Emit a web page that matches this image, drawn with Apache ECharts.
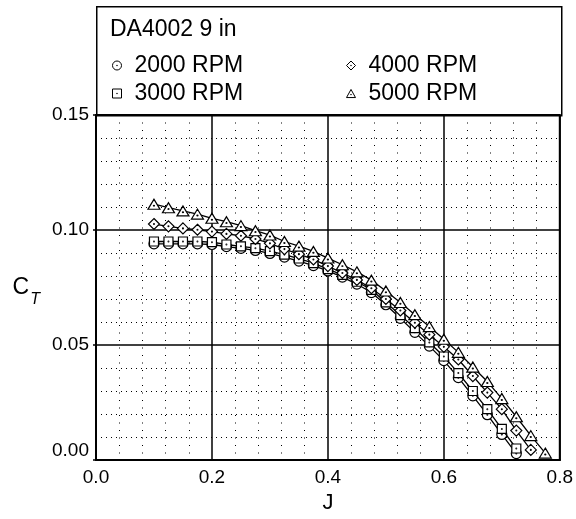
<!DOCTYPE html>
<html>
<head>
<meta charset="utf-8">
<script src="https://cdn.jsdelivr.net/npm/echarts@6/dist/echarts.min.js"></script>
<style>html,body{margin:0;padding:0;background:#fff}#c{width:576px;height:519px}</style>
</head>
<body>
<div id="c"></div>
<script>
// ---- data ----
const J = [0.100,0.125,0.150,0.175,0.200,0.225,0.250,0.275,0.300,0.325,0.350,0.375,0.400,0.425,0.450,0.475,0.500,0.525,0.550,0.575,0.600,0.625,0.650,0.675,0.700,0.725,0.750,0.775];
const ct2000 = [0.0940,0.0940,0.0940,0.0940,0.0937,0.0928,0.0920,0.0911,0.0898,0.0882,0.0865,0.0845,0.0822,0.0795,0.0765,0.0728,0.0675,0.0616,0.0555,0.0495,0.0432,0.0358,0.0279,0.0197,0.0111,0.0028];
const ct3000 = [0.0950,0.0950,0.0950,0.0950,0.0947,0.0937,0.0929,0.0921,0.0908,0.0893,0.0876,0.0856,0.0830,0.0805,0.0775,0.0740,0.0685,0.0630,0.0573,0.0511,0.0450,0.0378,0.0300,0.0221,0.0135,0.0050];
const ct4000 = [0.1026,0.1016,0.1007,0.1001,0.0993,0.0983,0.0975,0.0961,0.0942,0.0917,0.0895,0.0872,0.0843,0.0813,0.0783,0.0747,0.0700,0.0650,0.0597,0.0545,0.0492,0.0437,0.0365,0.0293,0.0221,0.0128,0.0044];
const ct5000 = [0.1112,0.1097,0.1083,0.1069,0.1051,0.1036,0.1019,0.0997,0.0978,0.0950,0.0930,0.0907,0.0878,0.0849,0.0818,0.0782,0.0735,0.0685,0.0632,0.0580,0.0525,0.0468,0.0404,0.0341,0.0267,0.0188,0.0106,0.0030];
const seriesNames = ['2000 RPM','3000 RPM','4000 RPM','5000 RPM'];
const xTicks = [0.0,0.2,0.4,0.6,0.8];
const yTicks = [0.00,0.05,0.10,0.15];
const titleText = 'DA4002 9 in';

// ---- symbols (outline + centre dot) ----
const dot = (cx,cy)=>`M${cx},${cy-0.8}A0.8,0.8,0,1,1,${cx},${cy+0.8}A0.8,0.8,0,1,1,${cx},${cy-0.8}Z`;
const SYM = {
  circle: 'path://M10,0A10,10,0,1,1,10,20A10,10,0,1,1,10,0Z' + dot(10,10),
  square: 'path://M0,0L20,0L20,20L0,20Z' + dot(10,10),
  diamond: 'path://M10,0L20,10L10,20L0,10Z' + dot(10,10),
  triangle: 'path://M10,0L20,18L0,18Z' + dot(10,11.5)
};
const symList = [SYM.circle, SYM.square, SYM.diamond, SYM.triangle];
const symSizes = [10, 9, 11, [12,10]];
const dataSets = [ct2000, ct3000, ct4000, ct5000];

const series = dataSets.map((arr,i)=>({
  name: seriesNames[i],
  type: 'line',
  data: arr.map((v,k)=>[J[k], v]),
  symbol: symList[i],
  symbolSize: symSizes[i],
  showAllSymbol: true,
  lineStyle: {color:'#000', width:1.3},
  itemStyle: {color:'#fff', borderColor:'#000', borderWidth:1.2},
  z: 2 + i*0.01,
  animation: false
}));

const FONT = '"Liberation Sans", Arial, sans-serif';
const chart = echarts.init(document.getElementById('c'), null, {renderer:'canvas'});
chart.setOption({
  animation: false,
  backgroundColor: '#fff',
  title: {text: titleText, left: 110, top: 18, padding: 0,
    textStyle: {fontFamily: FONT, fontSize: 23, fontWeight: 'normal', color: '#000'}},
  legend: [
    {orient:'vertical', left:112, top:54, padding:0, itemGap:5, itemWidth:9, itemHeight:9,
     data:[{name:seriesNames[0], icon:SYM.circle},{name:seriesNames[1], icon:SYM.square}],
     itemStyle:{borderWidth:1},
     textStyle:{fontFamily:FONT, fontSize:23, color:'#000', padding:[0,0,0,8]}, selectedMode:false},
    {orient:'vertical', left:346, top:54, padding:0, itemGap:5, itemWidth:9, itemHeight:9,
     data:[{name:seriesNames[2], icon:SYM.diamond},{name:seriesNames[3], icon:SYM.triangle}],
     itemStyle:{borderWidth:1},
     textStyle:{fontFamily:FONT, fontSize:23, color:'#000', padding:[0,0,0,8]}, selectedMode:false}
  ],
  graphic: [{type:'rect', left:96, top:6, z:-1, silent:true,
    shape:{width:465, height:109}, style:{fill:'#fff', stroke:'#000', lineWidth:1.5}}],
  grid: {left:96, right:15, top:115, bottom:56, show:true, borderColor:'#000', borderWidth:2, containLabel:false},
  xAxis: {
    type:'value', min:xTicks[0], max:xTicks[xTicks.length-1], interval:0.2,
    name:'J', nameLocation:'middle', nameGap:32,
    nameTextStyle:{fontFamily:FONT, fontSize:22, color:'#000'},
    axisLine:{show:true, lineStyle:{color:'#000', width:2}},
    axisTick:{show:false},
    axisLabel:{fontFamily:FONT, fontSize:19, color:'#000', margin:8, formatter:v=>v.toFixed(1)},
    splitLine:{show:true, lineStyle:{color:'#000', width:1.5}},
    minorTick:{show:false, splitNumber:5},
    minorSplitLine:{show:true, lineStyle:{color:'#000', width:1, type:[1,6.5]}}
  },
  yAxis: {
    type:'value', min:yTicks[0], max:yTicks[yTicks.length-1], interval:0.05,
    name:'{c|C}{t|T}', nameLocation:'middle', nameRotate:0, nameGap:56,
    nameTextStyle:{rich:{
      c:{fontFamily:FONT, fontSize:23, color:'#000', lineHeight:23, verticalAlign:'top'},
      t:{fontFamily:FONT, fontSize:16, fontStyle:'italic', color:'#000', lineHeight:16, verticalAlign:'top', padding:[16,0,0,1]}
    }},
    axisLine:{show:true, lineStyle:{color:'#000', width:2}},
    axisTick:{show:true, inside:false, length:3, lineStyle:{color:'#000', width:1.5}},
    axisLabel:{fontFamily:FONT, fontSize:19, color:'#000', margin:7, formatter:v=>v.toFixed(2), verticalAlignMinLabel:'bottom'},
    splitLine:{show:true, lineStyle:{color:'#000', width:1.5}},
    minorTick:{show:false, splitNumber:5},
    minorSplitLine:{show:true, lineStyle:{color:'#000', width:1, type:[1,4]}}
  },
  series: series
});
</script>
</body>
</html>
